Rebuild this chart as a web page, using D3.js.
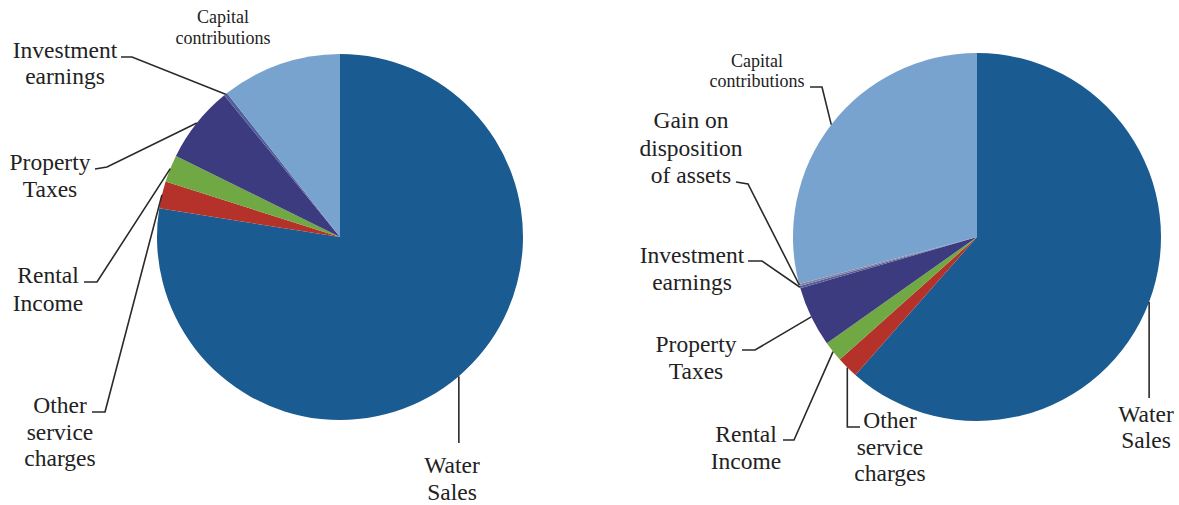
<!DOCTYPE html>
<html>
<head>
<meta charset="utf-8">
<script src="https://cdn.jsdelivr.net/npm/d3@7"></script>
<style>
  html, body { margin: 0; padding: 0; background: #fff; }
  svg { display: block; }
</style>
</head>
<body>
<div id="chart"></div>
<script>
// slice order, clockwise from 12 o'clock
const categories = [
  'Water Sales',
  'Other service charges',
  'Rental Income',
  'Property Taxes',
  'Investment earnings',
  'Gain on disposition of assets',
  'Capital contributions'
];
// share of revenue, percent
const leftValues  = [77.5, 2.4, 2.4, 6.8, 0.3, 0, 10.6];
const rightValues = [61.5, 1.9, 1.8, 5.3, 0.2, 0.2, 29.1];
const sliceColors = ['#1a5b91', '#b5322a', '#70a843', '#3c3b7f', '#50609c', '#8f7f9a', '#78a3cf'];

// label text lines per category
const labelLines = {
  'Water Sales': ['Water', 'Sales'],
  'Other service charges': ['Other', 'service', 'charges'],
  'Rental Income': ['Rental', 'Income'],
  'Property Taxes': ['Property', 'Taxes'],
  'Investment earnings': ['Investment', 'earnings'],
  'Gain on disposition of assets': ['Gain on', 'disposition', 'of assets'],
  'Capital contributions': ['Capital', 'contributions']
};

// hand placed labels (layout only). leader: tick start + elbow, then to slice edge
const leftLayout = {
  cx: 340, cy: 237, r: 183,
  labels: {
    'Water Sales': { x: 452, y: 473, lh: 27, vertical: 443 },
    'Other service charges': { x: 60, y: 413, lh: 26.5, leader: [[92, 412], [105, 412]] },
    'Rental Income': { x: 48, y: 283, lh: 28, leader: [[84, 282], [97, 282]] },
    'Property Taxes': { x: 50, y: 170, lh: 27, leader: [[95, 169], [107, 167]] },
    'Investment earnings': { x: 65, y: 58, lh: 25.5, leader: [[121, 57], [132, 57]] },
    'Capital contributions': { x: 223, y: 23, lh: 21, small: true }
  }
};
const rightLayout = {
  cx: 977, cy: 237, r: 184,
  labels: {
    'Water Sales': { x: 1146, y: 422, lh: 26, vertical: 398 },
    'Other service charges': { x: 890, y: 428, lh: 26.5, elbowDown: [860, 427] },
    'Rental Income': { x: 746, y: 442, lh: 26.5, leader: [[783, 440], [794, 440]] },
    'Property Taxes': { x: 696, y: 352, lh: 26.5, leader: [[742, 350], [755, 350]] },
    'Investment earnings': { x: 692, y: 263, lh: 27, leader: [[748, 261], [762, 261]] },
    'Gain on disposition of assets': { x: 691, y: 128, lh: 27.5, leader: [[736, 182], [748, 184]] },
    'Capital contributions': { x: 757, y: 67, lh: 20, small: true, leader: [[810, 87], [822, 87]] }
  }
};

const width = 1179, height = 505;

const svg = d3.select('#chart')
  .append('svg')
  .attr('width', width)
  .attr('height', height);

svg.append('rect').attr('width', width).attr('height', height).attr('fill', '#fff');

const color = d3.scaleOrdinal().domain(categories).range(sliceColors);

function drawPie(values, layout) {
  const data = categories.map((c, i) => ({ name: c, value: values[i] }));
  const pie = d3.pie().sort(null).value(d => d.value);
  const arcs = pie(data);

  const arc = d3.arc().innerRadius(0).outerRadius(layout.r);
  const edge = d3.arc().innerRadius(layout.r).outerRadius(layout.r);

  const g = svg.append('g')
    .attr('transform', 'translate(' + layout.cx + ',' + layout.cy + ')');

  g.selectAll('path.slice')
    .data(arcs.filter(d => d.value > 0))
    .join('path')
    .attr('class', 'slice')
    .attr('d', arc)
    .attr('fill', d => color(d.data.name));

  const lineGen = d3.line();

  arcs.forEach(d => {
    const lab = layout.labels[d.data.name];
    if (!lab) return;
    const c = edge.centroid(d);
    const p = [layout.cx + c[0], layout.cy + c[1]];

    let pts = null;
    if (lab.vertical !== undefined) {
      pts = [[p[0], lab.vertical], p];
    } else if (lab.elbowDown) {
      pts = [lab.elbowDown, [p[0], lab.elbowDown[1]], p];
    } else if (lab.leader) {
      pts = lab.leader.concat([p]);
    }
    if (pts) {
      svg.append('path')
        .attr('d', lineGen(pts))
        .attr('fill', 'none')
        .attr('stroke', '#2a2a2a')
        .attr('stroke-width', 1.6);
    }

    const t = svg.append('text')
      .style('font-family', 'Liberation Serif')
      .style('font-size', (lab.small ? 18 : 23.5) + 'px')
      .attr('fill', '#222')
      .attr('text-anchor', 'middle');
    labelLines[d.data.name].forEach((line, i) => {
      t.append('tspan')
        .attr('x', lab.x)
        .attr('y', lab.y + i * lab.lh)
        .text(line);
    });
  });
}

drawPie(leftValues, leftLayout);
drawPie(rightValues, rightLayout);
</script>
</body>
</html>
